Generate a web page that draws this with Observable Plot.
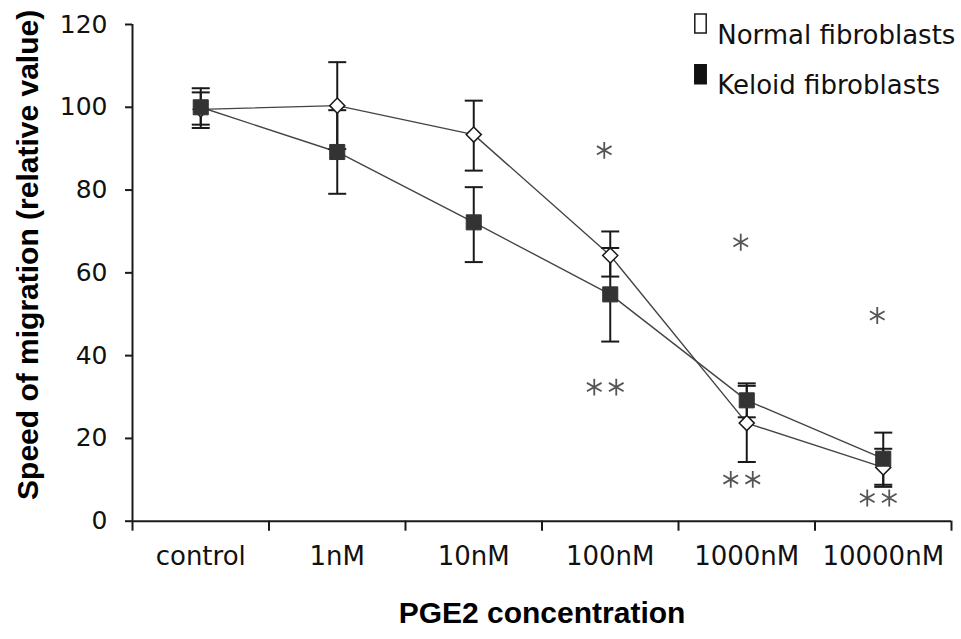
<!DOCTYPE html>
<html><head><meta charset="utf-8">
<script src="https://cdn.jsdelivr.net/npm/d3@7"></script>
<script src="https://cdn.jsdelivr.net/npm/@observablehq/plot@0.6"></script>
<style>html,body{margin:0;padding:0;background:#fff}#chart{width:961px;height:639px}</style>
</head><body><div id="chart"></div>
<script>
// ---- data ----
const categories = ["control", "1nM", "10nM", "100nM", "1000nM", "10000nM"];
const normalMean  = [99.5, 100.4, 93.4, 64.2, 23.7, 13.0];
const normalUpper = [103.6, 110.9, 101.6, 70.0, 32.7, 17.5];
const normalLower = [95.8, 89.9, 84.7, 59.1, 14.3, 8.3];
const keloidMean  = [100.0, 89.2, 72.2, 54.8, 29.2, 15.1];
const keloidUpper = [104.6, 99.3, 80.7, 66.0, 33.3, 21.4];
const keloidLower = [95.0, 79.1, 62.6, 43.4, 25.1, 8.8];
const starCategories = ["100nM", "1000nM", "10000nM"];
const singleStar = [89.6, 67.4, 49.7];
const doubleStar = [32.4, 10.1, 5.6];
const yTicks = [0, 20, 40, 60, 80, 100, 120];
const legendLabels = ["Normal fibroblasts", "Keloid fibroblasts"];
const xTitle = "PGE2 concentration";
const yTitle = "Speed of migration (relative value)";

// ---- tables ----
const pos = c => categories.indexOf(c) + 0.5;
const series = (mean, lo, hi) => categories.map((c, i) => ({x: pos(c), mean: mean[i], lo: lo[i], hi: hi[i]}));
const normal = series(normalMean, normalLower, normalUpper);
const keloid = series(keloidMean, keloidLower, keloidUpper);
const singles = starCategories.map((c, i) => ({x: pos(c), y: singleStar[i]}));
const doubles = starCategories.map((c, i) => ({x: pos(c), y: doubleStar[i]}));
const boundaries = d3.range(0, categories.length + 1);

// custom symbols
const capSymbol = {draw(ctx, size) { const r = Math.sqrt(size / Math.PI); ctx.moveTo(-r, 0); ctx.lineTo(r, 0); }};
const rectSymbol = {draw(ctx, size) { const r = Math.sqrt(size / Math.PI); ctx.rect(-r * 0.6, -r, r * 1.2, r * 2); }};

const ink = "#1a1a1a";
const tickFont = "DejaVu Sans";
const titleFont = "Liberation Sans, Arial, sans-serif";

const chart = Plot.plot({
  width: 961,
  height: 639,
  marginLeft: 132,
  marginRight: 10,
  marginTop: 24,
  marginBottom: 118.3,
  style: {fontFamily: tickFont, background: "#fff", overflow: "visible", color: "#000"},
  x: {domain: [0, categories.length], type: "linear"},
  y: {domain: [0, 120]},
  marks: [
    Plot.axisY(yTicks, {tickSize: 7, tickPadding: 18, fontSize: 25, fontFamily: tickFont, stroke: ink, strokeWidth: 2, label: null, fill: "#111"}),
    Plot.axisX(boundaries, {tickSize: 10, tickFormat: () => "", stroke: ink, strokeWidth: 2, label: null}),
    Plot.ruleX([0], {stroke: ink, strokeWidth: 2}),
    Plot.ruleY([0], {stroke: ink, strokeWidth: 2}),
    // category labels
    Plot.text(categories, {x: d => pos(d), frameAnchor: "bottom", dy: 44, fontSize: 26, fontFamily: tickFont, fill: "#111"}),
    // titles
    Plot.text([xTitle], {frameAnchor: "bottom", textAnchor: "middle", dy: 101.4, fontSize: 30, fontWeight: "bold", fontFamily: titleFont, fill: "#000"}),
    Plot.text([yTitle], {frameAnchor: "left", textAnchor: "middle", rotate: -90, dx: -104, dy: -18, fontSize: 30, fontWeight: "bold", fontFamily: titleFont, fill: "#000"}),
    // lines
    Plot.line(normal, {x: "x", y: "mean", stroke: "#444", strokeWidth: 1.4}),
    Plot.line(keloid, {x: "x", y: "mean", stroke: "#444", strokeWidth: 1.4}),
    // error bars
    Plot.ruleX(normal, {x: "x", y1: "lo", y2: "hi", stroke: ink, strokeWidth: 2}),
    Plot.ruleX(keloid, {x: "x", y1: "lo", y2: "hi", stroke: ink, strokeWidth: 2}),
    Plot.dot(normal, {x: "x", y: "hi", symbol: capSymbol, r: 9, fill: "none", stroke: ink, strokeWidth: 2}),
    Plot.dot(normal, {x: "x", y: "lo", symbol: capSymbol, r: 9, fill: "none", stroke: ink, strokeWidth: 2}),
    Plot.dot(keloid, {x: "x", y: "hi", symbol: capSymbol, r: 9, fill: "none", stroke: ink, strokeWidth: 2}),
    Plot.dot(keloid, {x: "x", y: "lo", symbol: capSymbol, r: 9, fill: "none", stroke: ink, strokeWidth: 2}),
    // markers
    Plot.dot(normal, {x: "x", y: "mean", symbol: "diamond2", r: 6.8, fill: "#fff", stroke: ink, strokeWidth: 1.5}),
    Plot.dot(keloid, {x: "x", y: "mean", symbol: "square", r: 8.5, fill: "#333", stroke: "#333", strokeWidth: 1}),
    // significance asterisks
    Plot.dot(singles, {x: "x", y: "y", symbol: "asterisk", r: 8, stroke: "#555", strokeWidth: 1.8, dx: -6}),
    Plot.dot(doubles, {x: "x", y: "y", symbol: "asterisk", r: 8, stroke: "#555", strokeWidth: 1.8, dx: -16}),
    Plot.dot(doubles, {x: "x", y: "y", symbol: "asterisk", r: 8, stroke: "#555", strokeWidth: 1.8, dx: 6}),
    // legend
    Plot.dot([legendLabels[0]], {frameAnchor: "top-left", dx: 568, dy: -1, symbol: rectSymbol, r: 9.5, fill: "#fff", stroke: ink, strokeWidth: 1.5}),
    Plot.dot([legendLabels[1]], {frameAnchor: "top-left", dx: 568, dy: 49.7, symbol: rectSymbol, r: 9.5, fill: "#111", stroke: "#111", strokeWidth: 1.5}),
    Plot.text([legendLabels[0]], {frameAnchor: "top-left", textAnchor: "start", dx: 584.7, dy: 0.7, fontSize: 26, fontFamily: tickFont, fill: "#111"}),
    Plot.text([legendLabels[1]], {frameAnchor: "top-left", textAnchor: "start", dx: 584.7, dy: 50.7, fontSize: 26, fontFamily: tickFont, fill: "#111"})
  ]
});
document.getElementById("chart").appendChild(chart);
</script>
</body></html>
